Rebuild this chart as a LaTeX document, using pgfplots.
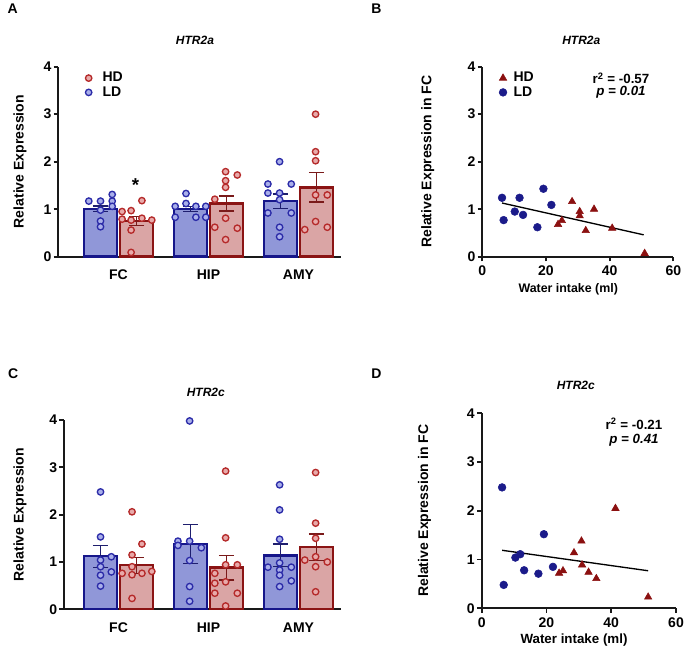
\documentclass[border=0pt]{standalone}
\usepackage{pgfplots}
\pgfplotsset{compat=1.18}
\usepackage{fontspec}
\setmainfont{Liberation Sans}
\definecolor{ldfill}{HTML}{9097D8}
\definecolor{ldedge}{HTML}{16168A}
\definecolor{lderr}{HTML}{1E1E6E}
\definecolor{ldpt}{HTML}{A9AFEA}
\definecolor{ldptedge}{HTML}{2B2BA8}
\definecolor{hdfill}{HTML}{DAA5A5}
\definecolor{hdedge}{HTML}{8B1414}
\definecolor{hderr}{HTML}{7A1A1A}
\definecolor{hdpt}{HTML}{E8AAAA}
\definecolor{hdptedge}{HTML}{B52A2A}
\definecolor{ldsc}{HTML}{1B1B8A}
\definecolor{hdsc}{HTML}{8B1010}
\newcommand{\fs}[1]{\fontsize{#1}{#1}\selectfont}
\pgfplotsset{
  base/.style={scale only axis, axis lines=left,
    axis line style={-, line width=1.4pt, black!90},
    tick style={line width=1.4pt, black!90},
    tick align=outside, major tick length=3.5pt,
    ymin=0, ymax=4, ytick={0,1,2,3,4},
    /pgf/number format/assume math mode=true,
    tick label style={font=\fs{10.5}\bfseries},
    yticklabel style={inner sep=1.5pt},
    label style={font=\fs{10.5}\bfseries},
    clip=false},
  barax/.style={base, xtick={0,1,2}, xticklabels={FC,HIP,AMY},
    xtick style={draw=none}, xticklabel style={yshift=-3pt},
    legend style={draw=none, fill=none, font=\fs{10.5}\bfseries, row sep=-2pt,
      /tikz/every odd column/.append style={column sep=6pt}},
    legend cell align=left},
  scatax/.style={base, xmin=0, xmax=60, xtick={0,20,40,60},
    legend style={draw=none, fill=none, font=\fs{10.5}\bfseries, row sep=-2pt,
      /tikz/every odd column/.append style={column sep=3pt}},
    legend cell align=left},
  ldbar/.style={ybar, bar width=0.37, bar shift=0pt, fill=ldfill, draw=ldedge, line width=1.8pt,
    error bars/y dir=both, error bars/y explicit,
    error bars/error bar style={line width=1pt, draw=lderr},
    error bars/error mark options={rotate=90, mark size=5.8pt, line width=1pt, draw=lderr}},
  hdbar/.style={ybar, bar width=0.37, bar shift=0pt, fill=hdfill, draw=hdedge, line width=1.8pt,
    error bars/y dir=both, error bars/y explicit,
    error bars/error bar style={line width=1pt, draw=hderr},
    error bars/error mark options={rotate=90, mark size=5.8pt, line width=1pt, draw=hderr}},
  ldpts/.style={only marks, mark=*, mark size=2.4pt, mark options={fill=ldpt, draw=ldptedge, line width=1pt}},
  hdpts/.style={only marks, mark=*, mark size=2.4pt, mark options={fill=hdpt, draw=hdptedge, line width=1pt}},
  ldsc/.style={only marks, mark=*, mark size=2.9pt, color=ldsc},
  hdsc/.style={only marks, mark=triangle*, mark size=3.2pt, color=hdsc},
}
\begin{document}
\begin{tikzpicture}
\path[use as bounding box] (0,0) rectangle (513.75pt,491.25pt);
% panel letters and titles
\node[anchor=west, font=\fs{10.5}\bfseries] at (2.25pt,484.7pt) {A};
\node[anchor=west, font=\fs{10.5}\bfseries] at (275pt,484.7pt) {B};
\node[anchor=west, font=\fs{10.5}\bfseries] at (2.5pt,210.9pt) {C};
\node[anchor=west, font=\fs{10.5}\bfseries] at (275pt,211.3pt) {D};
\node[font=\fs{9}\bfseries\itshape] at (146.25pt,460.65pt) {HTR2a};
\node[font=\fs{9}\bfseries\itshape] at (435.98pt,460.65pt) {HTR2a};
\node[font=\fs{9}\bfseries\itshape] at (154.35pt,196.9pt) {HTR2c};
\node[font=\fs{9}\bfseries\itshape] at (431.85pt,201.9pt) {HTR2c};
\node[font=\fs{10}\bfseries] at (465.75pt,432.5pt) {r\textsuperscript{2} = -0.57};
\node[font=\fs{10}\bfseries\itshape] at (465.75pt,421.9pt) {p = 0.01};
\node[font=\fs{10}\bfseries] at (475.5pt,173.1pt) {r\textsuperscript{2} = -0.21};
\node[font=\fs{10}\bfseries\itshape] at (475.5pt,161.25pt) {p = 0.41};

% ---------- Panel A ----------
\begin{axis}[barax, at={(43.725pt,298.725pt)}, anchor=south west,
  width=212pt, height=142.5pt, xmin=-0.669, xmax=2.472,
  ylabel={Relative Expression},
  ylabel style={at={(axis description cs:-0.1355,0.5)}, anchor=center},
  legend style={at={(axis description cs:0.081,1.0)}, anchor=north west}]
\addlegendimage{hdpts}\addlegendentry{HD}
\addlegendimage{ldpts}\addlegendentry{LD}
\addplot[forget plot, ldbar] coordinates {(-0.2,1.01) +- (0,0.06) (0.8,1.0) +- (0,0.05) (1.8,1.17) +- (0,0.15)};
\addplot[forget plot, hdbar] coordinates {(0.2,0.75) +- (0,0.09) (1.2,1.12) +- (0,0.16) (2.2,1.46) +- (0,0.31)};
\addplot[forget plot, ldpts] table {
x y
-0.33 1.17
-0.20 1.17
-0.07 1.31
-0.07 1.17
-0.07 1.06
-0.20 0.98
-0.20 0.75
-0.20 0.63
0.75 1.33
0.75 1.12
0.63 1.06
0.86 1.06
0.97 1.06
0.63 0.83
0.86 0.83
0.97 0.83
1.79 2.00
1.66 1.53
1.92 1.53
1.66 1.34
1.79 1.34
1.79 1.20
1.66 0.92
1.92 0.92
1.79 0.62
1.79 0.42
};
\addplot[forget plot, hdpts] table {
x y
0.26 1.18
0.04 0.95
0.14 0.97
0.04 0.79
0.14 0.77
0.26 0.81
0.37 0.77
0.14 0.56
0.14 0.09
1.19 1.79
1.32 1.72
1.19 1.60
1.19 1.46
1.07 1.21
1.19 0.81
1.07 0.62
1.32 0.60
1.19 0.36
2.19 3.00
2.19 2.21
2.19 2.02
2.19 1.30
2.32 1.30
2.07 0.57
2.19 0.74
2.32 0.62
};
\node[anchor=base, font=\fs{14}\bfseries] at (axis cs:0.19,1.37) {*};
\end{axis}

% ---------- Panel B ----------
\begin{axis}[scatax, at={(361.725pt,298.725pt)}, anchor=south west,
  width=143.25pt, height=142.5pt,
  ylabel={Relative Expression in FC},
  ylabel style={at={(axis description cs:-0.286,0.5)}, anchor=center},
  xlabel={Water intake (ml)},
  xlabel style={at={(axis description cs:0.45,-0.174)}, anchor=center, font=\fs{9.3}\bfseries},
  legend style={at={(axis description cs:0.066,1.0)}, anchor=north west}]
\addlegendimage{hdsc}\addlegendentry{HD}
\addlegendimage{ldsc}\addlegendentry{LD}
\addplot[forget plot, black, line width=1pt] coordinates {(6.2,1.13) (50.7,0.46)};
\addplot[forget plot, ldsc] table {
x y
6.2 1.24
6.7 0.77
10.2 0.95
11.7 1.24
12.8 0.88
17.3 0.62
19.2 1.43
21.7 1.09
};
\addplot[forget plot, hdsc] table {
x y
28.2 1.16
30.6 0.95
30.6 0.86
35.1 1.00
23.8 0.68
25.0 0.76
32.5 0.55
40.8 0.60
51.0 0.07
};
\end{axis}

% ---------- Panel C ----------
\begin{axis}[barax, at={(48pt,34.275pt)}, anchor=south west,
  width=207.75pt, height=141.975pt, xmin=-0.606, xmax=2.472,
  ylabel={Relative Expression},
  ylabel style={at={(axis description cs:-0.159,0.5)}, anchor=center}]
\addplot[ldbar] coordinates {(-0.2,1.12) +- (0,0.23) (0.8,1.38) +- (0,0.41) (1.8,1.14) +- (0,0.24)};
\addplot[hdbar] coordinates {(0.2,0.93) +- (0,0.17) (1.2,0.88) +- (0,0.26) (2.2,1.31) +- (0,0.28)};
\addplot[ldpts] table {
x y
-0.20 2.48
-0.20 1.53
-0.08 1.11
-0.20 1.04
-0.20 0.90
-0.08 0.79
-0.20 0.72
-0.20 0.49
0.79 3.98
0.66 1.44
0.79 1.44
0.66 1.35
0.92 1.30
0.79 1.03
0.79 0.48
0.79 0.17
1.79 2.63
1.79 2.10
1.79 1.48
1.66 0.89
1.79 0.98
1.92 0.89
1.79 0.83
1.79 0.72
1.92 0.60
1.79 0.48
};
\addplot[hdpts] table {
x y
0.15 2.06
0.26 1.38
0.15 1.15
0.15 0.90
0.04 0.76
0.15 0.73
0.26 0.76
0.37 0.80
0.15 0.23
1.19 2.92
1.19 1.51
1.19 0.94
1.32 0.94
1.07 0.76
1.07 0.55
1.19 0.58
1.07 0.34
1.32 0.34
1.19 0.07
2.19 2.89
2.19 1.82
2.19 1.50
2.07 1.04
2.19 1.11
2.32 1.00
2.19 0.90
2.19 0.37
};
\end{axis}

% ---------- Panel D ----------
\begin{axis}[scatax, at={(361.275pt,35.025pt)}, anchor=south west,
  width=145.725pt, height=146.25pt,
  ylabel={Relative Expression in FC},
  ylabel style={at={(axis description cs:-0.295,0.5)}, anchor=center},
  xlabel={Water intake (ml)},
  xlabel style={at={(axis description cs:0.475,-0.163)}, anchor=center, font=\fs{10}\bfseries}]
\addplot[black, line width=1pt] coordinates {(6.3,1.19) (51.4,0.77)};
\addplot[ldsc] table {
x y
6.3 2.48
6.8 0.48
10.4 1.04
11.9 1.11
13.1 0.78
17.5 0.71
19.2 1.52
22.0 0.85
};
\addplot[hdsc] table {
x y
41.3 2.05
30.8 1.38
28.5 1.14
31.0 0.89
33.0 0.74
35.4 0.61
23.9 0.72
25.1 0.77
51.4 0.23
};
\end{axis}
\end{tikzpicture}
\end{document}
